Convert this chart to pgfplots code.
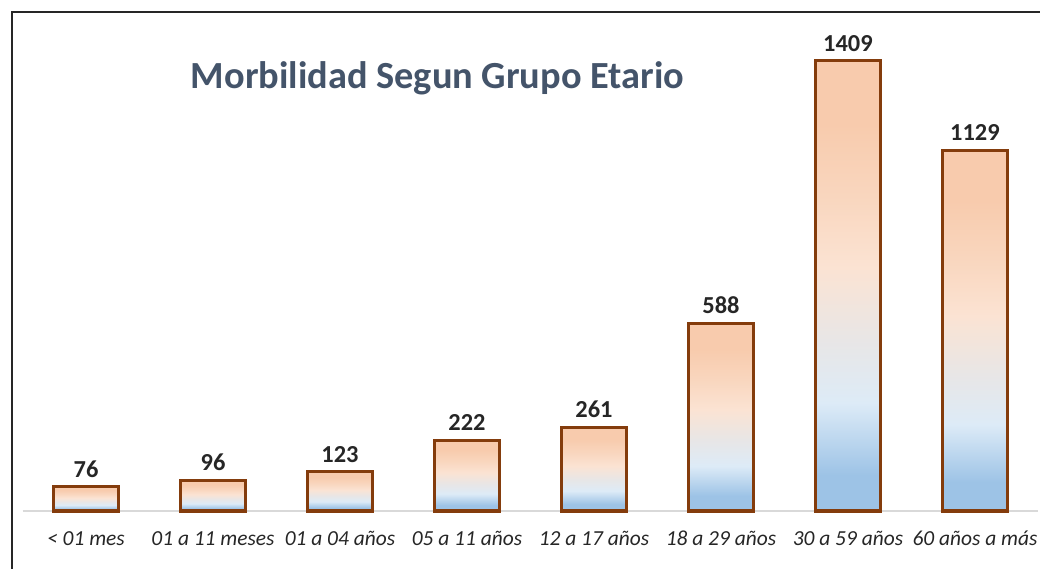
\documentclass[border=0pt]{standalone}
\usepackage{pgfplots}
\pgfplotsset{compat=1.18}
\usepackage{fontspec}
\setmainfont{Carlito}
\definecolor{barbrown}{HTML}{843C0C}
\definecolor{titlecol}{HTML}{44546A}
\definecolor{axgrey}{HTML}{D9D9D9}
\definecolor{cA}{HTML}{9DC3E6}
\definecolor{cB}{HTML}{DDEBF7}
\definecolor{cC}{HTML}{E8E6E6}
\definecolor{cD}{HTML}{FBE3D3}
\definecolor{cE}{HTML}{F9D6BE}
\definecolor{cF}{HTML}{F8CBAD}
\pgfdeclareverticalshading{barshade}{100bp}{color(0bp)=(cA); color(25bp)=(cA); color(29bp)=(cA); color(37bp)=(cB); color(44bp)=(cC); color(52bp)=(cD); color(60bp)=(cE); color(68bp)=(cF); color(100bp)=(cF)}
\pgfplotsset{barstyle/.style={draw=barbrown, line width=3bp, shade, shading=barshade, bar shift=0pt}}
\begin{document}
\begin{tikzpicture}[x=1bp,y=1bp]
\draw[line width=2bp, draw=black!85] (12bp,-20bp) -- (12bp,557bp) -- (1060bp,557bp);
\node[anchor=base, text=titlecol, font=\fontsize{38.5}{42}\selectfont\bfseries] at (437.5bp,480bp) {Morbilidad Segun Grupo Etario};
\begin{axis}[
  at={(22.5bp,58bp)}, anchor=south west, scale only axis,
  width=1016bp, height=543bp,
  xmin=-0.5, xmax=7.5, ymin=0, ymax=1700,
  axis x line*=bottom, axis y line=none,
  x axis line style={draw=axgrey, line width=1.5bp, -},
  xtick={0,...,7},
  xticklabels={{< 01 mes},{01 a 11 meses},{01 a 04 años},{05 a 11 años},{12 a 17 años},{18 a 29 años},{30 a 59 años},{60 años a más}},
  major tick length=0pt, ytick=\empty,
  xticklabel style={anchor=base, inner sep=0pt, yshift=-34bp, text=black!85, font=\fontsize{21.5}{24}\selectfont\itshape},
  ybar, bar width=65bp,
  nodes near coords,
  nodes near coords style={anchor=south, inner sep=0pt, yshift=8bp, text=black!85, font=\fontsize{24.5}{27}\selectfont\bfseries},
  /pgf/number format/1000 sep={},
  /pgf/number format/assume math mode=true,
  clip=false,
]
\addplot[barstyle] coordinates {(0,76)};
\addplot[barstyle] coordinates {(1,96)};
\addplot[barstyle] coordinates {(2,123)};
\addplot[barstyle] coordinates {(3,222)};
\addplot[barstyle] coordinates {(4,261)};
\addplot[barstyle] coordinates {(5,588)};
\addplot[barstyle] coordinates {(6,1409)};
\addplot[barstyle] coordinates {(7,1129)};
\end{axis}
\pgfresetboundingbox
\useasboundingbox (0bp,0bp) rectangle (1040bp,569bp);
\end{tikzpicture}
\end{document}
